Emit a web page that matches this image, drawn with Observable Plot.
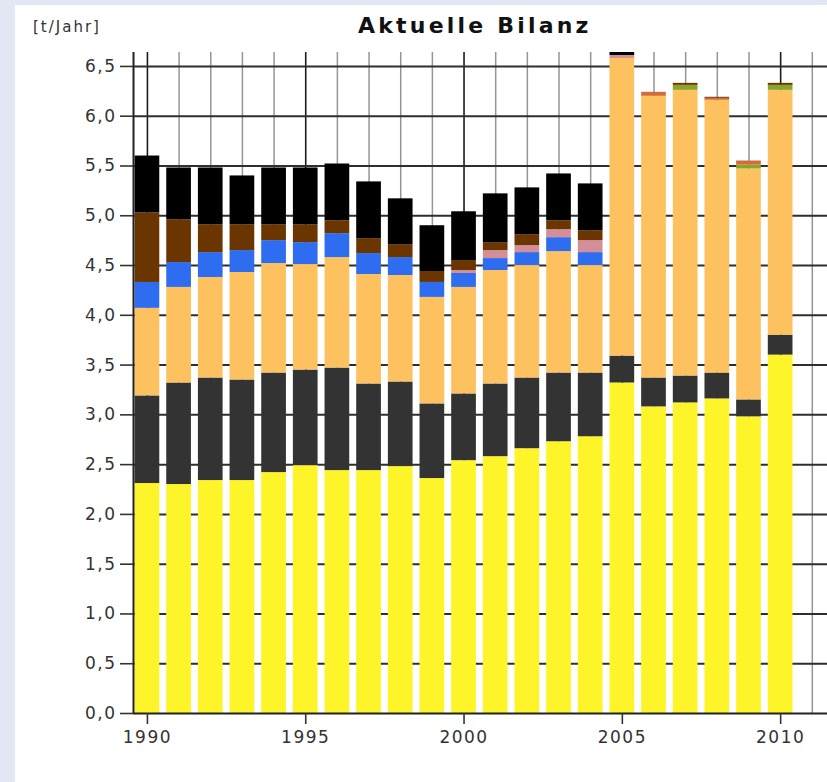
<!DOCTYPE html>
<html><head><meta charset="utf-8">
<script src="https://cdn.jsdelivr.net/npm/d3@7"></script>
<script src="https://cdn.jsdelivr.net/npm/@observablehq/plot@0.6"></script>
<style>
html,body{margin:0;padding:0;width:827px;height:782px;overflow:hidden;background:#e3e6f3;}
#panel{position:absolute;left:15px;top:5px;width:812px;height:777px;background:#fff;}
#chart{position:absolute;left:0;top:0;}
#chart svg text{letter-spacing:1.5px;}
#title{position:absolute;left:358px;top:15px;font-family:"DejaVu Sans";font-weight:bold;font-size:22px;line-height:22px;letter-spacing:3.2px;color:#111;white-space:nowrap;}
#unit{position:absolute;left:33px;top:18px;font-family:"DejaVu Sans";font-size:15px;line-height:18px;letter-spacing:2px;color:#333;white-space:nowrap;}
</style></head>
<body>
<div id="panel"></div>
<div id="chart"></div>
<div id="title">Aktuelle Bilanz</div>
<div id="unit">[t/Jahr]</div>
<script>
const years = [1990,1991,1992,1993,1994,1995,1996,1997,1998,1999,2000,2001,2002,2003,2004,2005,2006,2007,2008,2009,2010];
const gridYears = [1990,1991,1992,1993,1994,1995,1996,1997,1998,1999,2000,2001,2002,2003,2004,2005,2006,2007,2008,2009,2010,2011];
const xTickYears = [1990,1995,2000,2005,2010];
const yTicks = [0,0.5,1,1.5,2,2.5,3,3.5,4,4.5,5,5.5,6,6.5];

// stacked segments, bottom to top
const seriesNames = ["gelb","grau","orange","blau","rosa","gruen","rot","braun","schwarz"];
const seriesColors = ["#fdf52a","#333333","#fdc15f","#2f6df0","#d48e98","#8aa52c","#d66a38","#6b3500","#000000"];
const gelb    = [2.31,2.30,2.34,2.34,2.42,2.49,2.44,2.44,2.48,2.36,2.54,2.58,2.66,2.73,2.78,3.32,3.08,3.12,3.16,2.98,3.60];
const grau    = [0.88,1.02,1.03,1.01,1.00,0.96,1.03,0.87,0.85,0.75,0.67,0.73,0.71,0.69,0.64,0.27,0.29,0.27,0.26,0.17,0.20];
const orange  = [0.88,0.96,1.01,1.08,1.10,1.06,1.11,1.10,1.07,1.07,1.07,1.14,1.13,1.22,1.08,2.99,2.83,2.87,2.74,2.32,2.46];
const blau    = [0.26,0.25,0.25,0.22,0.23,0.22,0.24,0.21,0.18,0.15,0.14,0.12,0.13,0.14,0.13,0,0,0,0,0,0];
const rosa    = [0,0,0,0,0,0,0,0,0,0,0.03,0.08,0.07,0.08,0.12,0.03,0,0,0,0,0];
const gruen   = [0,0,0,0,0,0,0,0,0,0,0,0,0,0,0,0,0,0.05,0,0.04,0.05];
const rot     = [0,0,0,0,0,0,0,0,0,0,0,0,0,0,0,0,0.04,0,0.02,0.04,0];
const braun   = [0.70,0.43,0.28,0.26,0.16,0.18,0.13,0.15,0.13,0.11,0.10,0.08,0.11,0.09,0.10,0,0,0.02,0.01,0,0.02];
const schwarz = [0.57,0.52,0.57,0.49,0.57,0.57,0.57,0.57,0.46,0.46,0.49,0.49,0.47,0.47,0.47,0.03,0,0,0,0,0];
const seriesValues = [gelb,grau,orange,blau,rosa,gruen,rot,braun,schwarz];

// build stacked table
const rows = [];
years.forEach((yr, i) => {
  let base = 0;
  seriesValues.forEach((vals, s) => {
    const v = vals[i];
    if (v > 0) rows.push({year: yr, series: seriesNames[s], color: seriesColors[s], y1: base, y2: base + v});
    base += v;
  });
});

const halfBar = 0.39;
const chart = Plot.plot({
  width: 827, height: 782,
  marginLeft: 133, marginRight: 0, marginTop: 52, marginBottom: 69,
  x: {domain: [1989.56, 2011.48], axis: null},
  y: {domain: [0, 6.64], axis: null},
  color: {type: "identity"},
  style: {background: "transparent", fontFamily: "DejaVu Sans", fontSize: "17px", color: "#333", overflow: "visible"},
  marks: [
    Plot.ruleX(gridYears.filter(d => d % 5 !== 0), {stroke: "#959595", strokeWidth: 1.5}),
    Plot.ruleX(gridYears.filter(d => d % 5 === 0), {stroke: "#1c1c1c", strokeWidth: 1.6}),
    Plot.ruleY(yTicks.filter(d => d > 0), {stroke: "#2e2e2e", strokeWidth: 2}),
    Plot.rect(rows, {x1: d => d.year - halfBar, x2: d => d.year + halfBar, y1: "y1", y2: "y2", fill: "color"}),
    Plot.ruleX([1989.56], {stroke: "#222", strokeWidth: 2}),
    Plot.ruleY([0], {stroke: "#222", strokeWidth: 2}),
    Plot.axisY({ticks: yTicks, tickFormat: d => d.toFixed(1).replace(".", ","), tickSize: 13, tickPadding: 4, strokeWidth: 1.6}),
    Plot.axisX({ticks: xTickYears, tickFormat: d => String(d), tickSize: 11, tickPadding: 6, strokeWidth: 1.6})
  ]
});
document.getElementById("chart").appendChild(chart);
</script>
</body></html>
